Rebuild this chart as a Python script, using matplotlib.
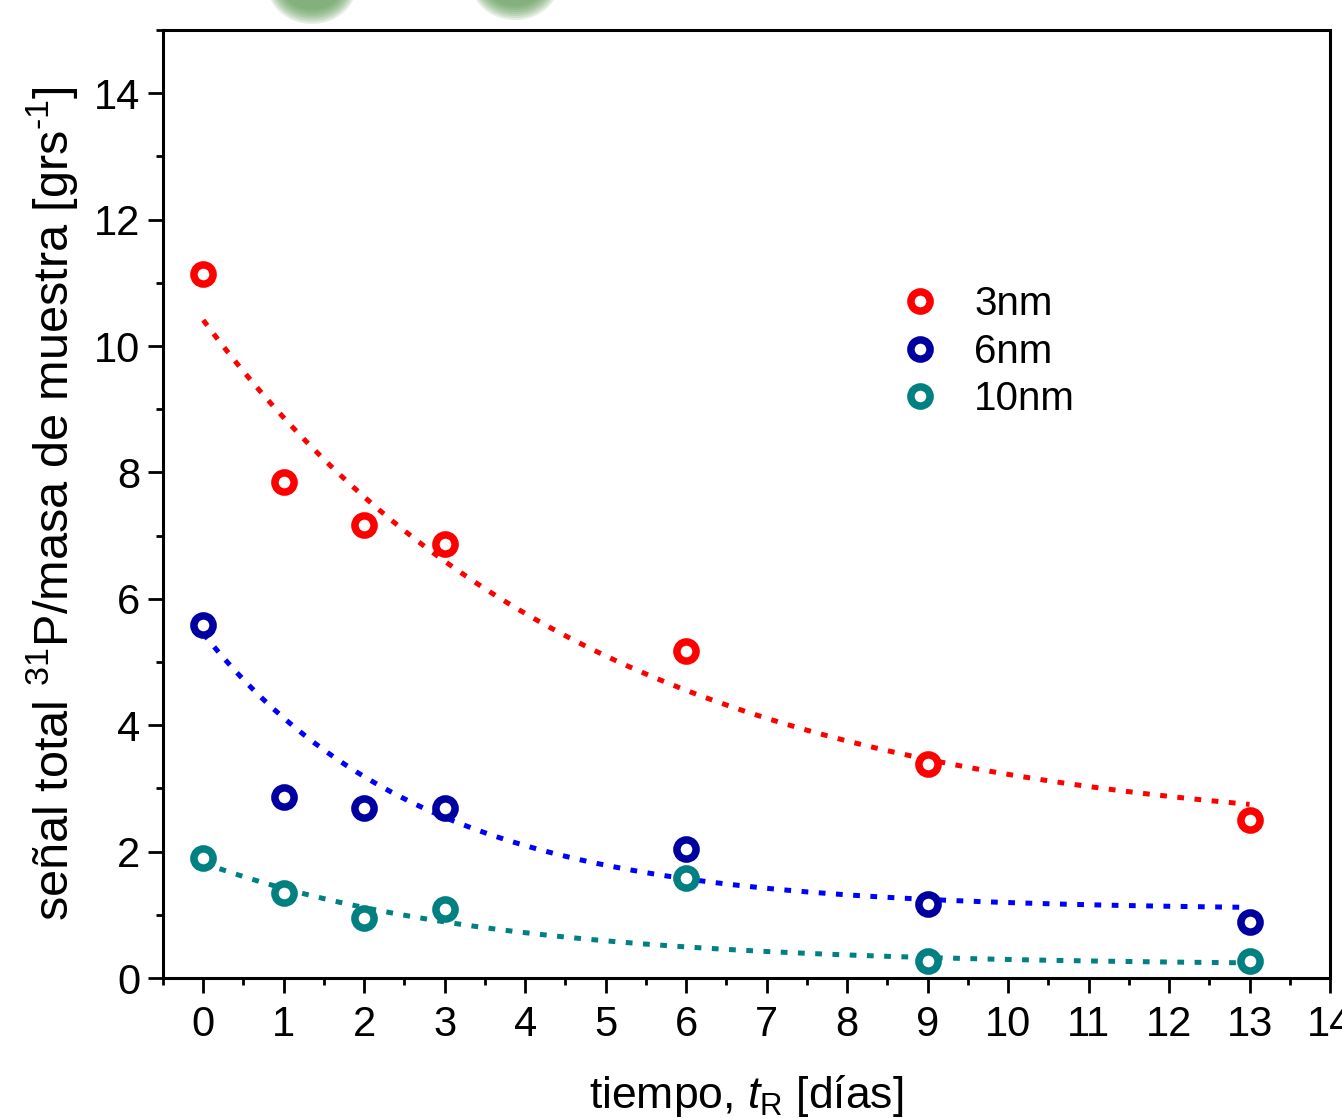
import numpy as np
import matplotlib
matplotlib.use("Agg")
import matplotlib.pyplot as plt
from matplotlib.patches import Ellipse
from matplotlib.ticker import MultipleLocator

plt.rcParams['font.family'] = ['Liberation Sans', 'DejaVu Sans']
plt.rcParams['mathtext.fontset'] = 'custom'
plt.rcParams['mathtext.rm'] = 'Liberation Sans'
plt.rcParams['mathtext.it'] = 'Liberation Sans:italic'

# measured total 31P signal per sample mass vs. time
dias = [0, 1, 2, 3, 6, 9, 13]
senal_3nm = [11.14, 7.85, 7.17, 6.86, 5.17, 3.38, 2.50]
senal_6nm = [5.58, 2.86, 2.69, 2.69, 2.04, 1.17, 0.88]
senal_10nm = [1.90, 1.34, 0.95, 1.09, 1.58, 0.27, 0.27]

etiquetas = ['3nm', '6nm', '10nm']

# exponential decay fits: y = y0 + A*exp(-t/tau)
fit_y0 = [2.20, 1.08, 0.20]
fit_A = [8.21, 4.37, 1.62]
fit_tau = [4.8, 2.74, 3.5]

col_marker = ['#FF0000', '#0000A0', '#008080']
col_fit = ['#FF0000', '#0000FF', '#008080']

W, H = 1342, 1118
fig = plt.figure(figsize=(W / 100, H / 100), dpi=100)
ax = fig.add_axes([163 / W, 1 - 978 / H, (1330 - 163) / W, (978 - 30) / H])

t = np.linspace(0, 13, 300)
series = [senal_3nm, senal_6nm, senal_10nm]
for i, ys in enumerate(series):
    yfit = fit_y0[i] + fit_A[i] * np.exp(-t / fit_tau[i])
    ax.plot(t, yfit, color=col_fit[i], lw=3.6, dashes=(1.35, 2.1),
            dash_capstyle='butt', zorder=2)
for i, ys in enumerate(series):
    ax.plot(dias, ys, 'o', ms=13.8, mew=5.4, mfc='white', mec=col_marker[i],
            ls='none', label=etiquetas[i], zorder=3)

ax.set_xlim(-0.5, 14)
ax.set_ylim(0, 15)
ax.xaxis.set_major_locator(MultipleLocator(1))
ax.xaxis.set_minor_locator(MultipleLocator(0.5))
ax.yaxis.set_major_locator(MultipleLocator(2))
ax.yaxis.set_minor_locator(MultipleLocator(1))
ax.set_yticks(range(0, 15, 2))

for s in ax.spines.values():
    s.set_linewidth(2.2)
ax.tick_params(which='major', direction='out', length=10.5, width=2.0,
               labelsize=30, pad=6)
ax.tick_params(axis='x', which='major', pad=9)
ax.tick_params(which='minor', direction='out', length=5, width=2.0)
ax.tick_params(top=False, right=False)

ax.set_xlabel(r'tiempo, $\mathit{t}_{\mathrm{R}}$ [días]', fontsize=32, labelpad=20)
ax.set_ylabel(r'señal total $^{31}$P/masa de muestra [grs$^{\text{-}1}$]',
              fontsize=35, labelpad=10)

leg = ax.legend(loc='upper left', bbox_to_anchor=(0.6, 0.748), frameon=False,
                fontsize=29, handletextpad=0.35, labelspacing=0.24,
                borderaxespad=0)

# soft green blobs peeking in along the top edge
for cx, cy in [(312, -16), (515, -20)]:
    for k in range(8):
        e = Ellipse((cx / W, 1 - cy / H), (90 - 4 * k) / W, (80 - 4 * k) / H,
                    transform=fig.transFigure, color='#5E9A55', alpha=0.16, lw=0)
        fig.add_artist(e)

fig.savefig('out.png', dpi=100)
